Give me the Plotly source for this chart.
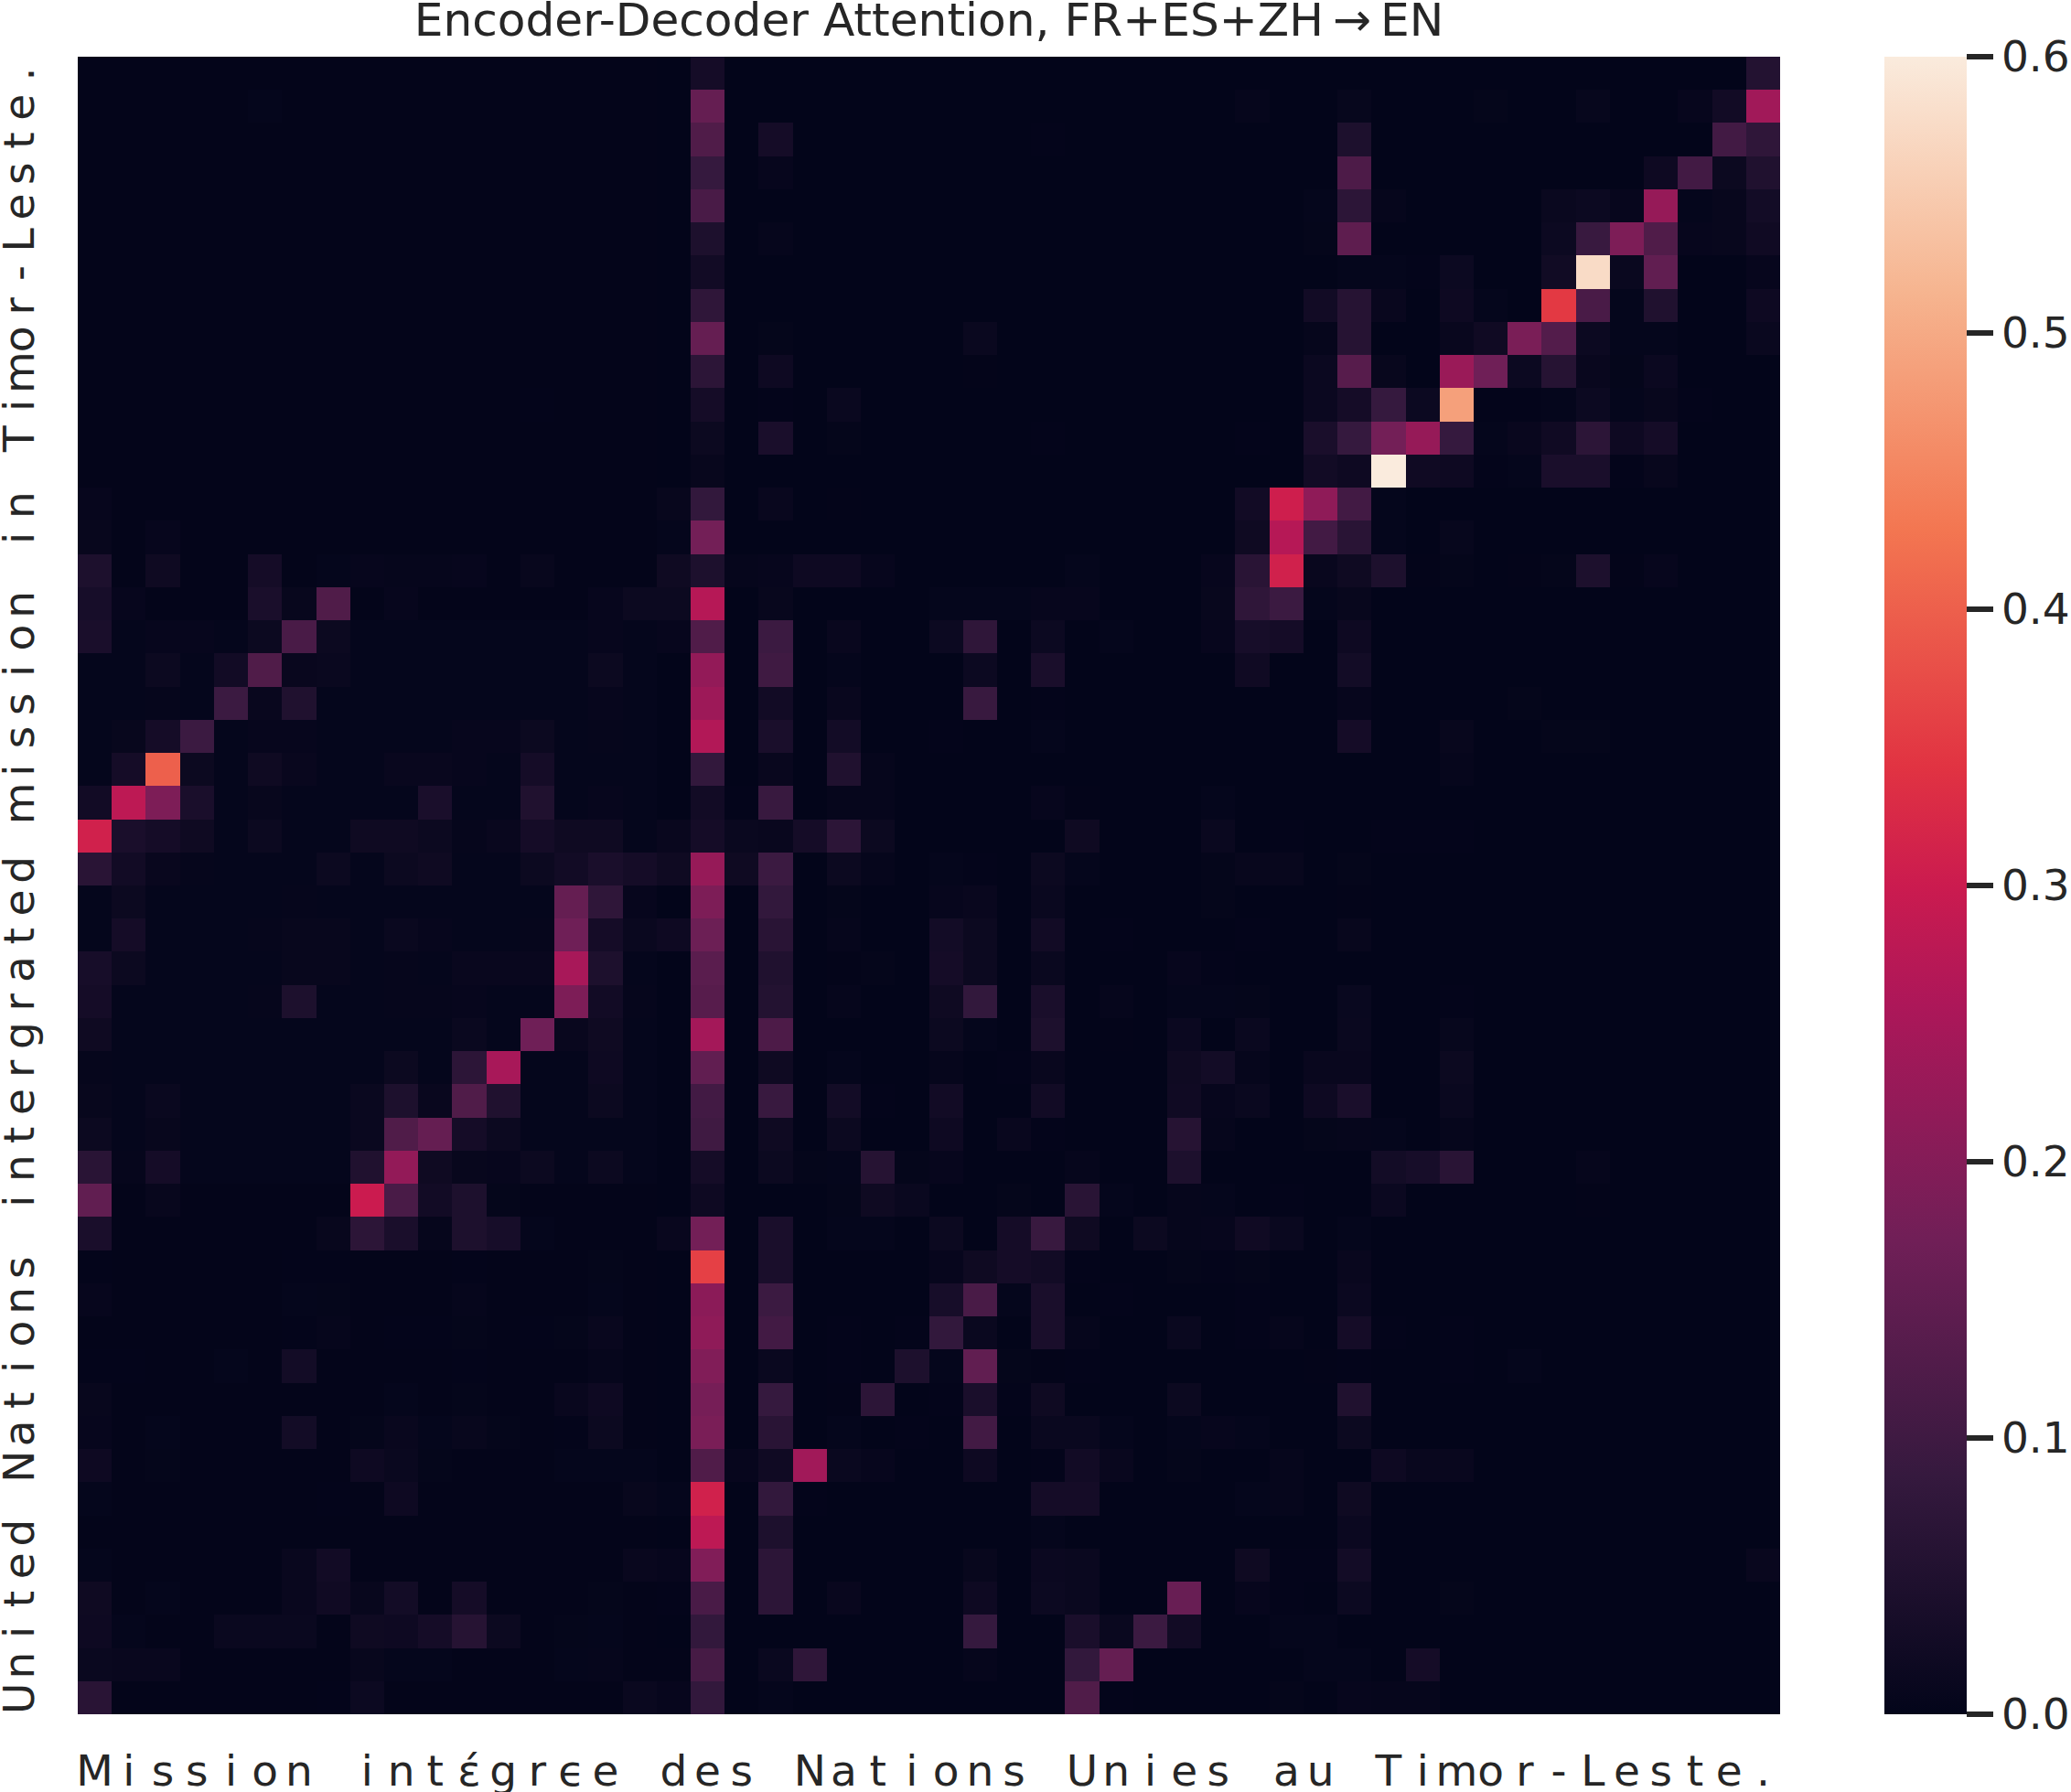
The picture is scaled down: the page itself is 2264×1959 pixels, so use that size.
import plotly.graph_objects as go

# Source tokens (x) and target tokens (y, listed top to bottom)
source_chars = list("Mission int\u03adgr\u03f5e des Nations Unies au Timor-Leste.")
target_chars = list("United Nations intergrated mission in Timor-Leste.")[::-1]
colorbar_ticks = [0.0, 0.1, 0.2, 0.3, 0.4, 0.5, 0.6]
title_text = "Encoder-Decoder Attention, FR+ES+ZH\u2009\u2192\u2009EN"

# Seaborn "rocket" colour stops
rocket_stops = [[0, "#03051a"], [0.0714, "#1c0f2c"], [0.1429, "#35193e"], [0.2857, "#701f57"],
                [0.4286, "#ad1759"], [0.5, "#cb1b4f"], [0.5714, "#e13342"], [0.7143, "#f37651"],
                [0.8571, "#f6b48f"], [1, "#faebdd"]]

# Background weight read per row, source columns 0-16 and the rest
floor_left = [.001]*17 + [.004]*17 + [.001]*16
floor_right = .0008

# Attention weights: one {column: weight} per row, top row first
attention_rows = [
 {18:.03,49:.055},
 {5:.004,18:.155,34:.005,37:.007,41:.003,44:.007,47:.006,48:.025,49:.24},
 {18:.125,20:.03,28:.002,37:.045,48:.105,49:.075},
 {18:.085,20:.006,37:.12,46:.018,47:.105,48:.015,49:.05},
 {18:.115,36:.004,37:.07,38:.005,43:.012,44:.016,45:.006,46:.225,47:.004,48:.008,49:.028},
 {18:.045,20:.005,36:.003,37:.145,43:.016,44:.09,45:.19,46:.125,47:.006,48:.008,49:.022},
 {18:.025,37:.004,38:.004,39:.002,40:.016,43:.024,44:.575,45:.012,46:.15,49:.006},
 {18:.075,36:.025,37:.06,38:.01,40:.018,41:.004,43:.35,44:.115,45:.004,46:.05,49:.018},
 {18:.155,20:.003,26:.012,36:.005,37:.06,40:.01,41:.022,42:.185,43:.13,44:.016,45:.004,46:.004,49:.012},
 {18:.07,20:.018,26:.001,36:.014,37:.135,38:.008,40:.23,41:.17,42:.016,43:.06,44:.01,45:.003,46:.014},
 {13:.002,18:.03,20:.002,22:.012,36:.014,37:.03,38:.085,39:.016,40:.487,41:.002,42:.002,43:.004,44:.016,45:.004,46:.008,47:.002},
 {18:.015,20:.04,22:.003,28:.002,34:.002,36:.04,37:.085,38:.175,39:.225,40:.085,41:.004,42:.01,43:.022,44:.07,45:.018,46:.03},
 {18:.008,36:.025,37:.018,38:.6,39:.022,40:.018,41:.002,42:.004,43:.04,44:.04,45:.002,46:.008},
 {0:.006,17:.008,18:.08,20:.01,22:.001,34:.025,35:.305,36:.215,37:.105,38:.004},
 {0:.008,2:.006,17:.004,18:.175,34:.02,35:.27,36:.105,37:.065,38:.004,40:.007},
 {0:.045,2:.02,5:.03,7:.004,8:.006,9:.005,10:.005,11:.006,13:.008,17:.02,18:.045,19:.005,20:.006,21:.018,22:.018,23:.006,29:.004,33:.006,34:.065,35:.31,36:.01,37:.02,38:.045,39:.001,40:.003,42:.001,43:.003,44:.045,45:.001,46:.006},
 {0:.035,1:.006,5:.04,6:.008,7:.125,9:.006,15:.006,16:.015,17:.015,18:.27,20:.008,25:.004,26:.004,27:.004,28:.006,29:.006,33:.008,34:.075,35:.095,36:.004,37:.008},
 {0:.04,2:.006,3:.006,5:.015,6:.115,7:.015,15:.006,17:.006,18:.125,20:.095,22:.01,25:.016,26:.075,28:.016,30:.004,33:.006,34:.035,35:.03,37:.018},
 {2:.015,4:.025,5:.125,6:.01,7:.012,15:.015,18:.22,20:.10,22:.004,26:.016,28:.04,34:.022,37:.028},
 {2:.005,4:.095,5:.01,6:.05,15:.006,18:.235,20:.025,22:.01,26:.09,28:.002,37:.006,42:.003},
 {1:.008,2:.03,3:.095,5:.006,6:.006,11:.006,12:.006,13:.015,15:.005,18:.265,20:.04,22:.028,25:.002,28:.004,37:.03,40:.008,43:.003,44:.003},
 {1:.03,2:.40,3:.015,5:.02,6:.01,9:.01,10:.01,11:.006,13:.03,18:.08,20:.01,22:.05,23:.005,40:.005},
 {0:.025,1:.28,2:.19,3:.04,5:.008,10:.04,13:.05,15:.006,18:.025,19:.002,20:.09,22:.005,23:.005,28:.006,29:.001,33:.004},
 {0:.31,1:.04,2:.03,3:.02,5:.015,8:.02,9:.02,10:.015,11:.005,12:.01,13:.03,14:.02,15:.02,17:.01,18:.03,19:.012,20:.01,21:.03,22:.07,23:.015,29:.02,33:.012,35:.002,38:.002,39:.002,40:.002},
 {0:.065,1:.025,2:.01,3:.005,7:.015,9:.015,10:.02,13:.015,14:.025,15:.04,16:.03,17:.02,18:.225,19:.02,20:.095,22:.015,23:.005,25:.004,26:.002,28:.015,29:.004,33:.003,34:.008,35:.008,37:.003},
 {1:.015,6:.005,14:.155,15:.075,16:.006,18:.19,20:.08,22:.003,25:.006,26:.01,28:.012,33:.003,37:.001},
 {1:.03,5:.005,6:.008,7:.008,9:.012,10:.006,13:.005,14:.17,15:.03,16:.012,17:.018,18:.165,20:.065,22:.005,25:.028,26:.015,28:.025,30:.002,34:.002,37:.008},
 {0:.035,1:.015,6:.008,7:.008,9:.005,11:.01,12:.01,13:.01,14:.25,15:.045,18:.14,20:.05,22:.001,23:.003,25:.03,26:.015,28:.012,32:.006,33:.002},
 {0:.03,5:.005,6:.045,9:.005,10:.005,11:.006,14:.19,15:.025,16:.005,18:.135,20:.055,22:.005,25:.02,26:.08,28:.04,30:.005,32:.004,33:.004,34:.003,37:.011,40:.002},
 {0:.02,9:.004,11:.012,13:.17,14:.01,15:.02,18:.245,20:.12,25:.015,26:.004,28:.045,30:.001,32:.014,34:.012,37:.012,40:.007},
 {0:.005,8:.004,9:.015,11:.07,12:.25,15:.018,18:.15,20:.02,22:.004,25:.005,27:.002,28:.01,32:.02,33:.028,34:.005,36:.01,37:.01,40:.015},
 {0:.008,2:.012,8:.012,9:.045,10:.01,11:.125,12:.05,15:.015,18:.105,20:.09,22:.028,23:.002,25:.025,28:.025,32:.022,33:.006,34:.012,36:.018,37:.04,40:.012},
 {0:.015,2:.008,8:.012,9:.125,10:.155,11:.03,12:.015,18:.10,20:.02,22:.015,25:.018,27:.01,28:.002,32:.06,33:.005,36:.003,37:.005,38:.004,40:.005},
 {0:.065,1:.005,2:.03,8:.05,9:.22,10:.02,11:.008,12:.006,13:.015,15:.015,18:.03,20:.015,21:.003,22:.004,23:.06,24:.003,25:.006,29:.005,32:.045,38:.028,39:.035,40:.065,44:.005},
 {0:.15,2:.008,8:.30,9:.115,10:.025,11:.045,12:.003,18:.018,22:.003,23:.02,24:.012,27:.003,29:.065,30:.004,32:.005,33:.004,35:.002,38:.014,44:.001},
 {0:.04,7:.008,8:.07,9:.04,10:.005,11:.045,12:.035,13:.004,17:.01,18:.175,20:.04,22:.004,23:.004,25:.015,27:.03,28:.09,29:.02,31:.015,32:.005,33:.006,34:.022,35:.012,37:.004},
 {0:.002,6:.002,7:.002,11:.002,15:.003,18:.36,20:.04,25:.006,26:.02,27:.03,28:.025,29:.002,32:.003,33:.002,34:.003,37:.01},
 {0:.006,6:.004,7:.003,11:.005,15:.004,18:.21,20:.095,25:.035,26:.115,27:.004,28:.04,30:.002,34:.002,37:.014},
 {6:.002,7:.005,9:.002,10:.002,11:.003,13:.002,14:.003,15:.01,18:.215,20:.105,22:.002,24:.002,25:.08,26:.012,28:.04,29:.005,32:.012,34:.002,35:.005,37:.03,38:.002,40:.002},
 {0:.002,1:.002,4:.004,6:.028,11:.002,15:.005,18:.195,20:.012,22:.002,24:.045,25:.004,26:.15,27:.003,28:.001,29:.002,36:.001,37:.002,40:.002,42:.004},
 {0:.008,9:.004,11:.003,14:.01,15:.018,18:.18,20:.085,22:.001,23:.07,25:.002,26:.04,27:.002,28:.02,32:.015,37:.05},
 {0:.006,2:.004,6:.028,8:.003,9:.01,10:.004,11:.008,12:.003,14:.002,15:.015,18:.185,20:.065,22:.004,24:.002,26:.105,28:.012,29:.012,30:.004,32:.004,33:.006,34:.004,37:.015},
 {0:.018,2:.003,8:.018,9:.012,10:.003,14:.004,15:.004,16:.004,18:.125,19:.006,20:.022,21:.24,22:.012,23:.006,26:.018,28:.002,29:.025,30:.01,32:.003,35:.005,38:.018,39:.01,40:.01},
 {0:.004,7:.002,9:.018,16:.008,17:.004,18:.31,20:.08,21:.002,28:.03,29:.03,34:.004,35:.005,37:.02},
 {18:.28,20:.045,28:.004,37:.014},
 {0:.004,6:.01,7:.025,16:.01,17:.006,18:.195,20:.07,26:.008,28:.014,29:.012,34:.02,35:.002,36:.002,37:.028,49:.01},
 {0:.02,2:.004,6:.01,7:.022,8:.008,9:.028,11:.03,15:.003,17:.002,18:.115,20:.07,22:.01,26:.018,28:.016,29:.012,32:.16,34:.006,35:.002,37:.016,40:.003},
 {0:.018,1:.004,4:.012,5:.012,6:.012,8:.02,9:.018,10:.03,11:.06,12:.015,14:.003,15:.004,18:.08,26:.085,29:.04,30:.012,31:.095,32:.025,35:.004,36:.004},
 {0:.012,1:.01,2:.01,8:.008,9:.004,10:.004,14:.004,15:.005,17:.001,18:.11,20:.012,21:.075,26:.005,29:.08,30:.155,36:.004,37:.004,39:.03},
 {0:.065,7:.002,8:.016,16:.012,17:.006,18:.08,20:.004,29:.125,30:.002,35:.003,37:.006,38:.005,39:.005},
]

z = []
for r, row in enumerate(attention_rows):
    z.append([row.get(c, floor_left[r] if c < 17 else floor_right) for c in range(len(source_chars))])

INK = "#262626"
FONT = "DejaVu Sans"
TICK_SIZE = 47

fig = go.Figure(go.Heatmap(
    z=z,
    x=list(range(len(source_chars))),
    y=list(range(len(target_chars))),
    zmin=0, zmax=0.6,
    colorscale=rocket_stops,
    hoverongaps=False,
    colorbar=dict(
        x=(2060 - 85) / 1861, xanchor="left", xpad=0, y=0.5, yanchor="middle", ypad=0,
        lenmode="pixels", len=1812, thicknessmode="pixels", thickness=90,
        outlinewidth=0, borderwidth=0,
        tickmode="array", tickvals=colorbar_ticks, ticktext=[f"{v:.1f}" for v in colorbar_ticks],
        ticks="outside", ticklen=29, tickwidth=6, tickcolor=INK,
        tickfont=dict(family=FONT, size=TICK_SIZE, color=INK),
    ),
))

fig.update_layout(
    width=2264, height=1959,
    margin=dict(l=85, r=318, t=62, b=85, pad=0, autoexpand=False),
    paper_bgcolor="white", plot_bgcolor="white",
    font=dict(family=FONT, color=INK),
    title=dict(text=title_text, font=dict(family=FONT, size=50.2, color=INK),
               x=0.5, xanchor="center", xref="paper", y=1 - 39 / 1959, yanchor="bottom", yref="container", pad=dict(b=0)),
    xaxis=dict(range=[-0.5, 49.5], tickmode="array", tickvals=list(range(50)), ticktext=source_chars,
               tickangle=0, ticks="outside", ticklen=21, tickwidth=0, tickcolor="rgba(0,0,0,0)",
               tickfont=dict(family=FONT, size=TICK_SIZE, color=INK), showgrid=False, zeroline=False,
               showline=False, automargin=False),
    yaxis=dict(range=[49.5, -0.5], tickmode="array", tickvals=list(range(50)), ticktext=target_chars,
               tickangle=-90, ticks="outside", ticklen=28, tickwidth=0, tickcolor="rgba(0,0,0,0)",
               ticklabelshift=-8,
               tickfont=dict(family=FONT, size=TICK_SIZE, color=INK), showgrid=False, zeroline=False,
               showline=False, automargin=False),
)

fig.write_html("out.html", config={"displayModeBar": False},
               post_script="document.body.style.margin='0';document.body.style.overflow='hidden';")
